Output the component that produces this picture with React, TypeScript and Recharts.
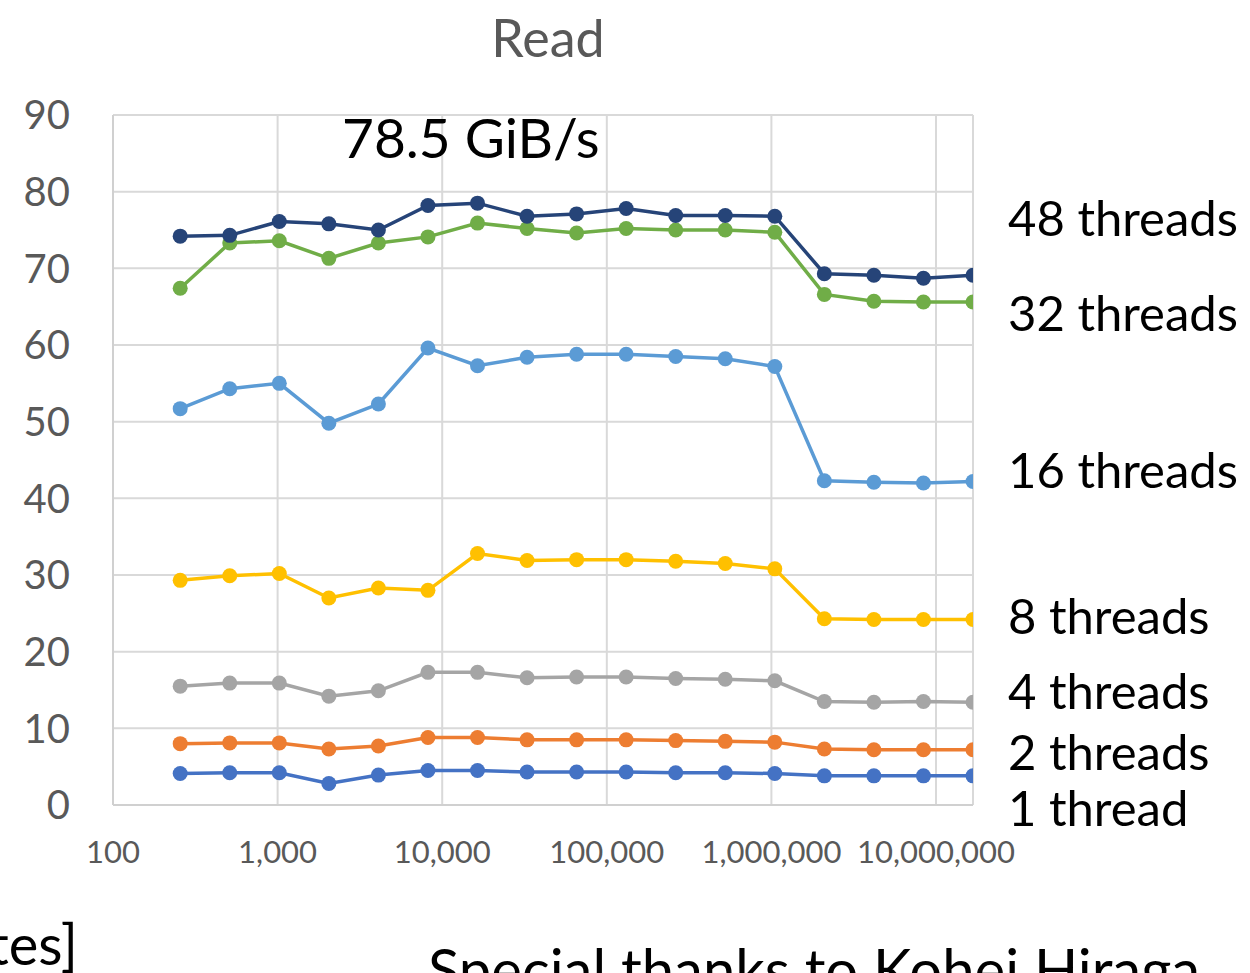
import React from 'react';
import { LineChart, Line, XAxis, YAxis, CartesianGrid } from 'recharts';

// block sizes in bytes (2^8 .. 2^24)
const sizes = [
  256, 512, 1024, 2048, 4096, 8192, 16384, 32768, 65536, 131072, 262144,
  524288, 1048576, 2097152, 4194304, 8388608, 16777216
];

const t1 = [4.1, 4.2, 4.2, 2.8, 3.9, 4.5, 4.5, 4.3, 4.3, 4.3, 4.2, 4.2, 4.1, 3.8, 3.8, 3.8, 3.8];
const t2 = [8.0, 8.1, 8.1, 7.3, 7.7, 8.8, 8.8, 8.5, 8.5, 8.5, 8.4, 8.3, 8.2, 7.3, 7.2, 7.2, 7.2];
const t4 = [15.5, 15.9, 15.9, 14.2, 14.9, 17.3, 17.3, 16.6, 16.7, 16.7, 16.5, 16.4, 16.2, 13.5, 13.4, 13.5, 13.4];
const t8 = [29.3, 29.9, 30.2, 27.0, 28.3, 28.0, 32.8, 31.9, 32.0, 32.0, 31.8, 31.5, 30.8, 24.3, 24.2, 24.2, 24.2];
const t16 = [51.7, 54.3, 55.0, 49.8, 52.3, 59.6, 57.3, 58.4, 58.8, 58.8, 58.5, 58.2, 57.2, 42.3, 42.1, 42.0, 42.2];
const t32 = [67.4, 73.3, 73.6, 71.3, 73.3, 74.1, 75.9, 75.2, 74.6, 75.2, 75.0, 75.0, 74.7, 66.6, 65.7, 65.6, 65.6];
const t48 = [74.2, 74.3, 76.1, 75.8, 75.0, 78.2, 78.5, 76.8, 77.1, 77.8, 76.9, 76.9, 76.8, 69.3, 69.1, 68.7, 69.1];

const xTicks = [100, 1000, 10000, 100000, 1000000, 10000000];
const yTicks = [0, 10, 20, 30, 40, 50, 60, 70, 80, 90];

const series = [
  { key: 't1', color: '#4472C4' },
  { key: 't2', color: '#ED7D31' },
  { key: 't4', color: '#A5A5A5' },
  { key: 't8', color: '#FFC000' },
  { key: 't16', color: '#5B9BD5' },
  { key: 't32', color: '#70AD47' },
  { key: 't48', color: '#264478' }
];

const seriesLabels = [
  { text: '48 threads', top: 188 },
  { text: '32 threads', top: 283 },
  { text: '16 threads', top: 440 },
  { text: '8 threads', top: 586 },
  { text: '4 threads', top: 661 },
  { text: '2 threads', top: 722 },
  { text: '1 thread', top: 778 }
];

const data = sizes.map((x, i) => ({
  x,
  t1: t1[i],
  t2: t2[i],
  t4: t4[i],
  t8: t8[i],
  t16: t16[i],
  t32: t32[i],
  t48: t48[i]
}));

const font = 'Lato, "Open Sans", sans-serif';

const App: React.FC = () => {
  return (
    <div style={{ position: 'absolute', left: 0, top: 0, width: 1250, height: 973, overflow: 'hidden', background: '#fff', fontFamily: font }}>
      <div style={{ position: 'absolute', left: 0, width: 1096, top: 6, textAlign: 'center', fontSize: 52, color: '#595959' }}>
        Read
      </div>

      <LineChart
        width={1250}
        height={973}
        data={data}
        margin={{ top: 115, right: 277, left: 13, bottom: 100 }}
      >
        <CartesianGrid stroke="#d9d9d9" strokeWidth={2} />
        <XAxis
          dataKey="x"
          type="number"
          scale="log"
          domain={[100, 16777216]}
          ticks={xTicks}
          allowDataOverflow
          height={68}
          axisLine={{ stroke: '#d0d0d0', strokeWidth: 2 }}
          tickLine={false}
          tickSize={0}
          tickMargin={36}
          tick={{ fontSize: 31, fill: '#595959', fontFamily: font }}
          tickFormatter={(v: number) => v.toLocaleString('en-US')}
        />
        <YAxis
          type="number"
          domain={[0, 90]}
          ticks={yTicks}
          width={100}
          axisLine={{ stroke: '#d0d0d0', strokeWidth: 2 }}
          tickLine={false}
          tickSize={0}
          tickMargin={43}
          tick={{ fontSize: 40, fill: '#595959', fontFamily: font }}
        />
        {series.map((s) => (
          <Line
            key={s.key}
            dataKey={s.key}
            stroke={s.color}
            strokeWidth={3.5}
            dot={{ r: 7.5, fill: s.color, stroke: s.color, strokeWidth: 0 }}
            activeDot={false}
            isAnimationActive={false}
          />
        ))}
      </LineChart>

      <div style={{ position: 'absolute', left: 342, top: 104, fontSize: 55, color: '#000' }}>
        78.5 GiB/s
      </div>

      {seriesLabels.map((l) => (
        <div key={l.text} style={{ position: 'absolute', left: 1008, top: l.top, fontSize: 49, color: '#000', whiteSpace: 'nowrap' }}>
          {l.text}
        </div>
      ))}

      <div style={{ position: 'absolute', right: 1172, top: 910, fontSize: 56, color: '#000', whiteSpace: 'nowrap' }}>
        [bytes]
      </div>
      <div style={{ position: 'absolute', left: 428, top: 934, fontSize: 58, color: '#000', whiteSpace: 'nowrap' }}>
        Special thanks to Kohei Hiraga
      </div>
    </div>
  );
};

export default App;
